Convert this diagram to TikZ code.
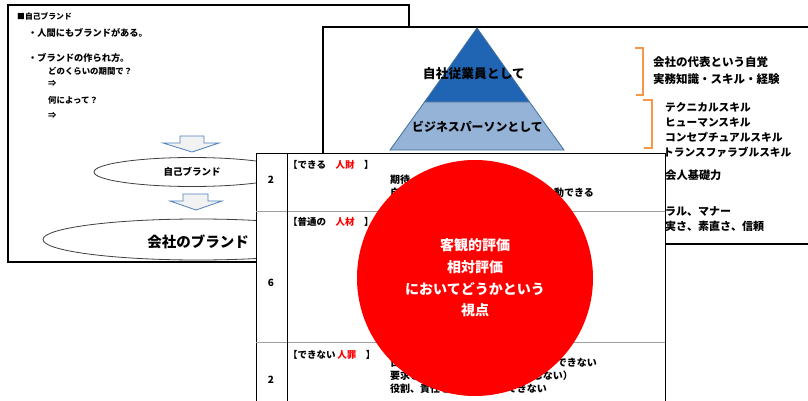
\documentclass[tikz,border=0pt]{standalone}
\usepackage{fontspec}
\setmainfont{Noto Sans CJK JP}
\usetikzlibrary{shapes.geometric}
\definecolor{pyrdark}{RGB}{31,101,180}
\definecolor{pyrlight}{RGB}{149,179,215}
\definecolor{pyredge}{RGB}{65,113,156}
\definecolor{arrowedge}{RGB}{79,129,189}
\definecolor{arrowfill}{RGB}{242,242,242}
\definecolor{brkorange}{RGB}{247,150,70}
\definecolor{rowgray}{RGB}{160,160,160}
\definecolor{hotred}{RGB}{255,0,0}
\newcommand\fsz[1]{\fontsize{#1}{#1}\selectfont\bfseries}
\begin{document}
\begin{tikzpicture}[x=1pt,y=-1pt,
  tw/.style={anchor=west,inner sep=0pt,text height=0.8em,text depth=0.1em},
  te/.style={anchor=east,inner sep=0pt,text height=0.8em,text depth=0.1em},
  tc/.style={anchor=center,inner sep=0pt,text height=0.8em,text depth=0.1em},
  frame/.style={draw=black,line width=1.6pt,fill=white},
  blockarrow/.style={draw=arrowedge,fill=arrowfill,line width=0.8pt},
  oval/.style={draw=black!75,line width=0.8pt},
  brk/.style={draw=brkorange,line width=1.3pt},
  tline/.style={draw=black,line width=0.8pt},
  rline/.style={draw=rowgray,line width=1pt}]
\useasboundingbox (0,0) rectangle (808,401);
\fill[white] (0,0) rectangle (808,401);

% ---------- left slide ----------
\draw[frame] (8,5) rectangle (409,262);
\node[tw,font=\fsz{7.8}] (l0) at (17,16) {■自己ブランド};
\node[tw,font=\fsz{9.2}] (l1) at (28,33) {・人間にもブランドがある。};
\node[tw,font=\fsz{9.2}] (l2) at (28,58) {・ブランドの作られ方。};
\node[tw,font=\fsz{8.4}] (l3) at (48,71) {どのくらいの期間で？};
\node[tw,font=\fsz{8.4}] (l4) at (48,83) {⇒};
\node[tw,font=\fsz{8.4}] (l5) at (48,100) {何によって？};
\node[tw,font=\fsz{8.4}] (l6) at (48,115) {⇒};
\draw[blockarrow] (180,136) -- (204,136) -- (204,143) -- (219,143) -- (192,152) -- (163,143) -- (180,143) -- cycle;
\draw[oval] (192,172) ellipse [x radius=98, y radius=14.5];
\node[tc,font=\fsz{9.5}] (selfbrand) at (192,172) {自己ブランド};
\draw[blockarrow] (183,194) -- (208,194) -- (208,201) -- (222,201) -- (196,210) -- (170,201) -- (183,201) -- cycle;
\draw[oval] (198,239.5) ellipse [x radius=155, y radius=20.5];
\node[tc,font=\fsz{14.5}] (combrand) at (198,244) {会社のブランド};

% ---------- right slide ----------
\draw[frame] (323,27) -- (820,27) -- (820,244) -- (323,244) -- cycle;
\filldraw[fill=pyrdark,draw=pyredge,line width=0.8pt] (477,28) -- (529.5,102) -- (424.5,102) -- cycle;
\filldraw[fill=pyrlight,draw=pyredge,line width=0.8pt] (424.5,102) -- (529.5,102) -- (564,150) -- (390,150) -- cycle;
\node[tc,font=\fsz{12.8}] (p1) at (474,75) {自社従業員として};
\node[tc,font=\fsz{11.9}] (p2) at (477.5,128) {ビジネスパーソンとして};
\draw[brk] (635,48) -- (643,48) -- (643,95) -- (636,95);
\draw[brk] (643,100) -- (652,100) -- (652,148) -- (644,148);
\node[tw,font=\fsz{11.5}] (r1) at (653,63) {会社の代表という自覚};
\node[tw,font=\fsz{11.5}] (r2) at (653,80) {実務知識・スキル・経験};
\node[tw,font=\fsz{10.7}] (r3) at (665,108) {テクニカルスキル};
\node[tw,font=\fsz{10.7}] (r4) at (665,123) {ヒューマンスキル};
\node[tw,font=\fsz{10.7}] (r5) at (665,137.5) {コンセプチュアルスキル};
\node[tw,font=\fsz{10.7}] (r6) at (663,153) {トランスファラブルスキル};
\node[tw,font=\fsz{11.2}] (r7) at (654,176) {社会人基礎力};
\node[tw,font=\fsz{11}] (r8) at (654,212) {モラル、マナー};
\node[tw,font=\fsz{11}] (r9) at (654,227) {誠実さ、素直さ、信頼};

% ---------- table ----------
\draw[tline,fill=white] (256,153) rectangle (665,410);
\draw[rline] (256,211) -- (665,211);
\draw[rline] (256,342) -- (665,342);
\draw[tline] (287,153) -- (287,410);
\node[tc,font=\fsz{10}] (n1) at (271,180) {2};
\node[tc,font=\fsz{10}] (n2) at (271,283) {6};
\node[tc,font=\fsz{10}] (n3) at (271,380) {2};
\node[tw,font=\fsz{9.5}] (h1) at (288,165) {【できる　\textcolor{hotred}{人財}　】};
\node[tw,font=\fsz{9.5}] (h2) at (288,222) {【普通の　\textcolor{hotred}{人材}　】};
\node[tw,font=\fsz{9.5}] (h3) at (288,355) {【できない\,\textcolor{hotred}{人罪}　】};
\node[tw,font=\fsz{10}] (a1) at (390,180) {期待};
\node[tw,font=\fsz{10}] (a2) at (390,193) {自};
\node[te,font=\fsz{10}] (a3) at (594,193) {動できる};
\node[tw,font=\fsz{10}] (b1) at (390,363) {日};
\node[te,font=\fsz{10}] (b2) at (597,363) {ができない};
\node[tw,font=\fsz{10}] (b3) at (390,376) {要求さ};
\node[te,font=\fsz{10}] (b4) at (573,376) {しない）};
\node[tw,font=\fsz{10}] (b5) at (390,389) {役割、責任を果};
\node[te,font=\fsz{10}] (b6) at (547,389) {ができない};

% ---------- red circle ----------
\node[circle,fill=hotred,minimum size=236pt,inner sep=0pt,text=white,align=center,
      font={\fontsize{14}{21.7}\selectfont\bfseries}] (view) at (475,278)
      {客観的評価\\相対評価\\においてどうかという\\視点};
\end{tikzpicture}
\end{document}
